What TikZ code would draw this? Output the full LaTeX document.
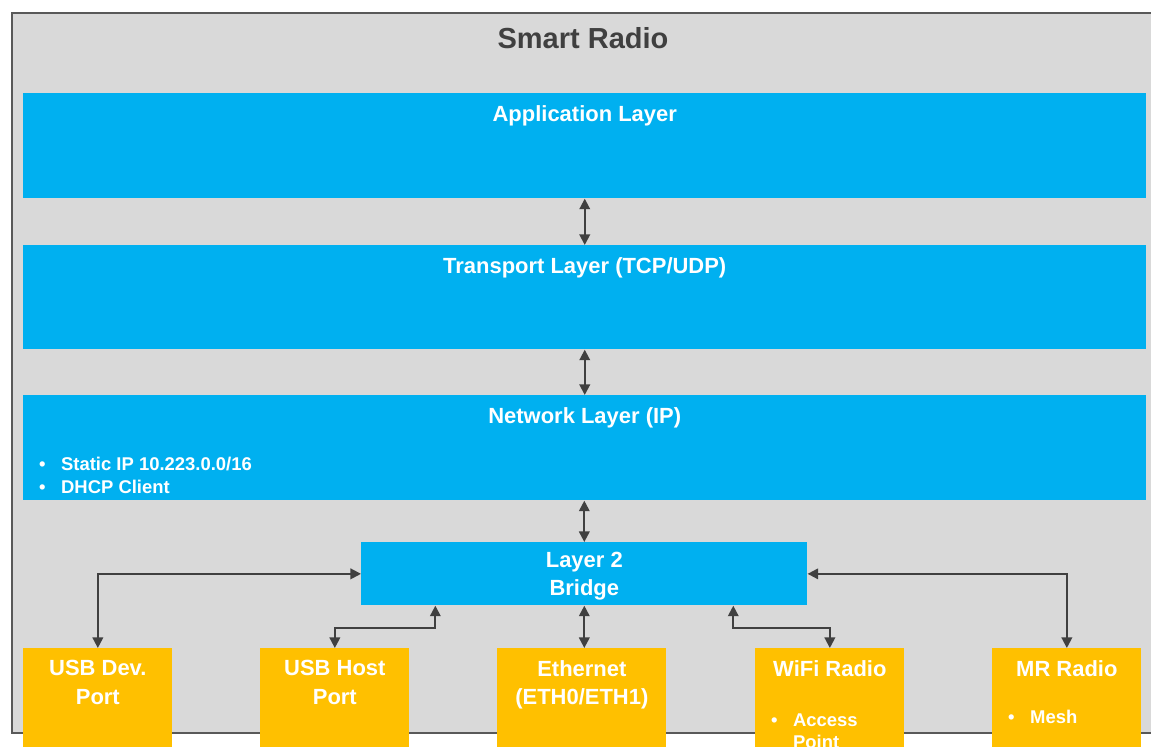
\documentclass[tikz,border=0pt]{standalone}
\usepackage{fontspec}
\setmainfont{Liberation Sans}
\usetikzlibrary{arrows.meta,positioning}
\definecolor{layerblue}{HTML}{00B0F0}
\definecolor{portorange}{HTML}{FFC000}
\definecolor{radiogray}{HTML}{D9D9D9}
\definecolor{framegray}{HTML}{595959}
\definecolor{arrowgray}{HTML}{404040}
\newcommand\bitem{\makebox[12.5pt][l]{\textbullet}}
\begin{document}
\begin{tikzpicture}[x=0.02cm,y=-0.02cm,
  layer/.style={fill=layerblue,inner sep=0pt,minimum width=22.46cm,minimum height=2.1cm,anchor=north west},
  port/.style={fill=portorange,inner sep=0pt,minimum width=2.98cm,minimum height=1.98cm,anchor=north west},
  lbl/.style={text=white,inner sep=0pt,font=\bfseries\fontsize{12.5}{16}\selectfont,align=center},
  sub/.style={text=white,inner sep=0pt,font=\bfseries\fontsize{10.5}{13}\selectfont,align=left},
  link/.style={arrowgray,line width=1.1pt,{Triangle[length=6pt,width=6pt]}-{Triangle[length=6pt,width=6pt]}}]
\useasboundingbox (0,0) rectangle (1151,747);
\node[fill=radiogray,draw=framegray,line width=1pt,inner sep=0pt,minimum width=22.98cm,minimum height=14.4cm,anchor=north west] (radio) at (11,12) {};
\node[text=arrowgray,font=\bfseries\fontsize{16.5}{20}\selectfont] (title) at (583,38) {Smart Radio};

\node[layer,label={[lbl,anchor=north,yshift=-7pt]north:Application Layer}] (app) at (23,93) {};
\node[layer,minimum height=2.08cm,label={[lbl,anchor=north,yshift=-7pt]north:Transport Layer (TCP/UDP)}] (trans) at (23,245) {};
\node[layer,label={[lbl,anchor=north,yshift=-7pt]north:Network Layer (IP)},
  label={[sub,anchor=south west,xshift=9pt,yshift=4pt]south west:\bitem Static IP 10.223.0.0/16\\\bitem DHCP Client}] (net) at (23,395) {};
\node[layer,minimum width=8.92cm,minimum height=1.26cm,label={[lbl,yshift=-1.5pt]center:Layer 2\\Bridge}] (bridge) at (361,542) {};

\node[port,label={[lbl,anchor=north,yshift=-7pt]north:USB Dev.\\Port}] (usbdev) at (23,648) {};
\node[port,label={[lbl,anchor=north,yshift=-7pt]north:USB Host\\Port}] (usbhost) at (260,648) {};
\node[port,minimum width=3.38cm,label={[lbl,anchor=north,yshift=-7pt]north:Ethernet\\(ETH0/ETH1)}] (eth) at (497,648) {};
\node[port,label={[lbl,anchor=north,yshift=-7pt]north:WiFi Radio},
  label={[sub,anchor=north west,xshift=9pt,yshift=-37pt]north west:\bitem Access\\\hspace*{12.5pt}Point}] (wifi) at (755,648) {};
\node[port,label={[lbl,anchor=north,yshift=-7pt]north:MR Radio},
  label={[sub,anchor=north west,xshift=9pt,yshift=-35pt]north west:\bitem Mesh}] (mr) at (992,648) {};

\draw[link] (app) -- (trans);
\draw[link] (trans) -- (net);
\draw[link] (net.south -| bridge.north) -- (bridge.north);
\draw[link] (bridge.west) -| (usbdev.north);
\draw[link] ([xshift=-2.98cm]bridge.south) -- ++(0,22) -| (usbhost.north);
\draw[link] (bridge.south) -- (bridge.south |- eth.north);
\draw[link] ([xshift=2.98cm]bridge.south) -- ++(0,22) -| (wifi.north);
\draw[link] (bridge.east) -| (mr.north);
\end{tikzpicture}
\end{document}
